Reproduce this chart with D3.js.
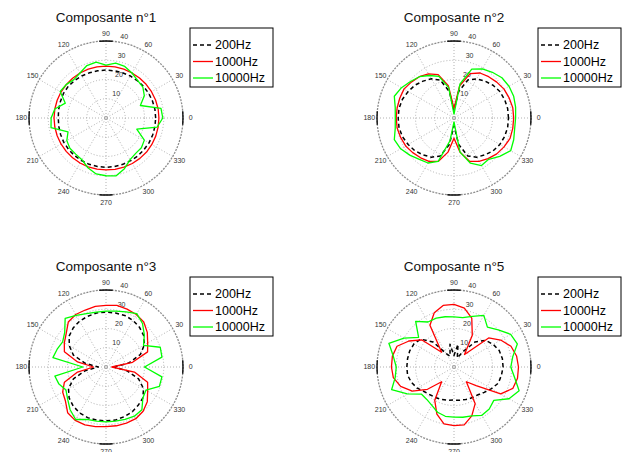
<!DOCTYPE html>
<meta charset="utf-8">
<script src="https://cdn.jsdelivr.net/npm/d3@7"></script>
<style>
body { margin: 0; background: #fff; }
svg { display: block; font-family: "Liberation Sans", Arial, sans-serif; }
.grid { fill: none; stroke: #a8a8a8; stroke-width: 0.9; stroke-dasharray: 1,2; }
.rim { fill: none; stroke: #8c8c8c; stroke-width: 1.3; stroke-dasharray: 2,1.2; }
.rim-dark { fill: none; stroke: #111; stroke-width: 1.4; }
.tick-label { font-size: 7px; fill: #333; }
.title { font-size: 13.5px; fill: #111; }
.legend-box { fill: #fff; stroke: #000; stroke-width: 1; }
.legend-text { font-size: 12.5px; fill: #000; }
</style>
<body>
<div class="chart"></div>
<script>

// sample angles (degrees, counter-clockwise from the right)
var angles = [0, 10, 20, 30, 40, 50, 60, 70, 80, 90, 100, 110, 120, 130, 140, 150, 160, 170,
              180, 190, 200, 210, 220, 230, 240, 250, 260, 270, 280, 290, 300, 310, 320, 330, 340, 350];

var titles = ["Composante n°1", "Composante n°2", "Composante n°3", "Composante n°5"];
var freqs = ["200Hz", "1000Hz", "10000Hz"];
var angleTicks = [0, 30, 60, 90, 120, 150, 180, 210, 240, 270, 300, 330];
var ringTicks = [10, 20, 30, 40];

// Composante n°1
var c1_200   = [25.8, 25.8, 25.7, 25.6, 25.5, 25.3, 25.2, 25.0, 24.9, 24.9, 24.9, 25.0, 25.2, 25.4, 25.6, 25.5, 25.2, 25.0,
                24.8, 24.9, 25.1, 25.3, 25.4, 25.5, 25.5, 25.6, 25.6, 25.6, 25.6, 25.6, 25.6, 25.7, 25.7, 25.8, 25.8, 25.8];
var c1_1000  = [27.5, 27.5, 27.4, 27.3, 27.2, 27.1, 27.0, 27.0, 27.0, 27.0, 27.0, 27.0, 27.0, 27.0, 27.0, 27.0, 27.0, 27.0,
                27.0, 27.0, 27.0, 27.0, 27.0, 27.0, 27.0, 27.0, 27.0, 27.0, 27.1, 27.2, 27.3, 27.4, 27.5, 27.5, 27.5, 27.5];
var c1_10000 = [29.5, 29.0, 19.0, 23.0, 25.0, 25.5, 27.0, 28.5, 29.0, 27.5, 29.5, 29.0, 27.0, 26.0, 27.0, 27.5, 22.5, 27.0,
                28.5, 29.0, 21.0, 23.5, 24.5, 24.5, 25.0, 27.5, 29.5, 30.0, 30.5, 28.0, 25.0, 24.0, 24.0, 23.0, 17.0, 27.0];

// Composante n°2
var c2_200   = [28.3, 28.3, 28.0, 27.5, 26.5, 25.0, 23.5, 21.0, 14.0, 4.0, 14.0, 21.0, 23.5, 25.0, 26.5, 27.5, 28.5, 29.0,
                29.0, 29.0, 28.5, 27.5, 26.5, 25.0, 23.5, 21.0, 14.0, 4.0, 14.0, 21.0, 23.5, 25.0, 26.5, 27.5, 28.0, 28.3];
var c2_1000  = [31.0, 31.0, 30.5, 30.0, 29.0, 28.0, 27.0, 24.5, 17.0, 5.0, 17.0, 24.0, 26.5, 28.0, 29.0, 30.0, 30.0, 30.0,
                30.0, 30.0, 29.5, 29.0, 28.0, 27.0, 26.0, 24.0, 18.0, 10.5, 18.0, 24.0, 26.0, 27.5, 29.0, 30.0, 31.0, 31.0];
var c2_10000 = [32.0, 32.5, 33.0, 33.0, 32.5, 31.0, 29.5, 27.0, 18.0, 2.0, 16.0, 23.0, 25.5, 28.0, 29.5, 31.5, 33.0, 31.0,
                30.5, 31.0, 33.0, 32.0, 30.0, 28.0, 27.0, 24.0, 12.0, 2.0, 18.0, 25.0, 28.5, 28.0, 31.0, 34.0, 33.0, 32.0];

// Composante n°3
var c3_200   = [4.0, 12.0, 19.0, 23.0, 25.5, 27.0, 28.0, 28.5, 28.5, 28.5, 28.5, 28.0, 27.5, 26.5, 25.0, 22.0, 18.0, 11.0,
                4.0, 11.0, 18.0, 22.5, 25.0, 26.5, 27.5, 28.0, 28.0, 28.0, 28.0, 27.5, 27.0, 26.0, 25.0, 22.5, 18.0, 11.0];
var c3_1000  = [3.0, 14.0, 23.0, 25.0, 28.0, 30.5, 31.5, 32.0, 32.5, 32.0, 32.0, 31.5, 31.5, 30.5, 27.0, 25.0, 23.0, 15.0,
                6.5, 15.0, 23.0, 26.0, 27.5, 31.0, 32.0, 32.0, 31.5, 31.0, 31.0, 31.0, 31.0, 30.0, 28.0, 25.0, 23.0, 15.0];
var c3_10000 = [20.0, 29.5, 30.0, 22.5, 26.0, 29.5, 32.0, 30.5, 29.5, 29.0, 29.0, 29.5, 31.0, 33.0, 28.0, 26.0, 27.0, 28.0,
                12.0, 27.0, 26.0, 24.0, 26.0, 29.0, 31.5, 29.0, 28.5, 28.5, 28.5, 29.0, 29.5, 29.0, 25.0, 24.0, 29.5, 29.5];

// Composante n°5
var c5_200   = [25.5, 25.5, 25.0, 23.5, 21.5, 17.0, 9.0, 5.0, 12.0, 6.0, 12.0, 6.0, 8.0, 17.0, 22.5, 24.0, 24.5, 24.5,
                24.5, 24.5, 23.5, 22.0, 20.0, 19.0, 18.5, 18.0, 17.5, 17.2, 17.5, 18.0, 18.5, 19.0, 20.5, 22.5, 24.5, 25.0];
var c5_1000  = [33.5, 33.0, 31.5, 28.0, 23.5, 8.5, 19.0, 27.0, 31.0, 32.5, 32.5, 30.0, 25.0, 10.0, 22.0, 27.0, 31.5, 32.5,
                32.5, 32.0, 29.5, 25.0, 18.0, 10.0, 20.0, 26.0, 30.0, 30.5, 30.5, 27.0, 22.0, 10.0, 15.0, 28.0, 32.5, 33.5];
var c5_10000 = [29.5, 31.0, 35.0, 34.0, 30.0, 27.0, 31.0, 28.0, 26.0, 26.0, 26.5, 27.0, 27.0, 31.0, 24.0, 30.0, 36.0, 32.0,
                30.0, 31.0, 34.5, 28.0, 22.0, 22.0, 23.0, 25.0, 26.0, 26.0, 26.5, 27.0, 29.0, 28.5, 27.0, 33.0, 36.0, 32.0];

var styles = [
  {color: "#000", dash: "4,3", width: 1.5},
  {color: "#ff0000", dash: null, width: 1.3},
  {color: "#00ff00", dash: null, width: 1.3}
];

var panels = [
  {title: titles[0], cx: 106, cy: 118, series: [c1_200, c1_1000, c1_10000]},
  {title: titles[1], cx: 454, cy: 118, series: [c2_200, c2_1000, c2_10000]},
  {title: titles[2], cx: 106, cy: 367, series: [c3_200, c3_1000, c3_10000]},
  {title: titles[3], cx: 454, cy: 367, series: [c5_200, c5_1000, c5_10000]}
];

var width = 624, height = 452, rMax = 40;

var svg = d3.select(".chart").append("svg")
    .attr("width", width)
    .attr("height", height);

// radius and angle scales (0 deg at the right, counter-clockwise)
var r = d3.scaleLinear().domain([0, rMax]).range([0, 77]);
var toRad = d3.scaleLinear().domain([0, 360]).range([0, 2 * Math.PI]);
function px(a, v) { return r(v) * Math.cos(toRad(a)); }
function py(a, v) { return -r(v) * Math.sin(toRad(a)); }

var line = d3.lineRadial()
    .angle(function(d) { return Math.PI / 2 - toRad(d[0]); })
    .radius(function(d) { return r(d[1]); })
    .curve(d3.curveLinearClosed);

panels.forEach(function(p) {
  var g = svg.append("g").attr("transform", "translate(" + p.cx + "," + p.cy + ")");

  // spokes
  g.selectAll(".spoke")
    .data(angleTicks.slice(0, 6))
    .enter().append("line")
    .attr("class", "grid")
    .attr("x1", function(a) { return px(a, rMax); })
    .attr("y1", function(a) { return py(a, rMax); })
    .attr("x2", function(a) { return px(a + 180, rMax); })
    .attr("y2", function(a) { return py(a + 180, rMax); });

  // inner rings
  g.selectAll(".ring")
    .data(ringTicks.slice(0, 3))
    .enter().append("circle")
    .attr("class", "grid")
    .attr("r", function(d) { return r(d); });

  g.append("circle").attr("r", 1.5).attr("fill", "none").attr("stroke", "#999").attr("stroke-width", 0.7);

  // outer rim
  g.append("circle").attr("class", "rim").attr("r", r(rMax));
  var arc = d3.arc().innerRadius(r(rMax)).outerRadius(r(rMax));
  [0, 90, 180, 270].forEach(function(a) {
    g.append("path")
      .attr("class", "rim-dark")
      .attr("d", d3.arc()({innerRadius: r(rMax), outerRadius: r(rMax),
                           startAngle: Math.PI / 2 - toRad(a + 5), endAngle: Math.PI / 2 - toRad(a - 5)}));
  });

  // angle labels
  g.selectAll(".alabel")
    .data(angleTicks)
    .enter().append("text")
    .attr("class", "tick-label")
    .attr("x", function(a) { return px(a, rMax * 1.1); })
    .attr("y", function(a) { return py(a, rMax * 1.1); })
    .attr("text-anchor", "middle")
    .attr("dy", "0.35em")
    .text(function(a) { return a; });

  // radial labels
  g.selectAll(".rlabel")
    .data(ringTicks)
    .enter().append("text")
    .attr("class", "tick-label")
    .attr("x", function(d) { return px(82, d + 0.5) + 3.5; })
    .attr("y", function(d) { return py(82, d + 0.5) - 1.5; })
    .text(function(d) { return d; });

  // curves
  p.series.forEach(function(s, i) {
    var pts = angles.map(function(a, k) { return [a, s[k]]; });
    g.append("path")
      .attr("d", line(pts))
      .attr("fill", "none")
      .attr("stroke", styles[i].color)
      .attr("stroke-width", styles[i].width)
      .attr("stroke-dasharray", styles[i].dash)
      .attr("stroke-linejoin", "round");
  });

  // title
  g.append("text")
    .attr("class", "title")
    .attr("x", 0)
    .attr("y", -96.5)
    .attr("text-anchor", "middle")
    .text(p.title);

  // legend
  var lg = g.append("g").attr("transform", "translate(84,-90)");
  lg.append("rect").attr("class", "legend-box").attr("width", 83).attr("height", 59);
  freqs.forEach(function(f, i) {
    var y = 17 + i * 16.5;
    lg.append("line")
      .attr("x1", 3).attr("x2", 23).attr("y1", y).attr("y2", y)
      .attr("stroke", styles[i].color)
      .attr("stroke-width", styles[i].width)
      .attr("stroke-dasharray", styles[i].dash);
    lg.append("text")
      .attr("class", "legend-text")
      .attr("x", 25)
      .attr("y", y)
      .attr("dy", "0.35em")
      .text(f);
  });
});

</script>
</body>
